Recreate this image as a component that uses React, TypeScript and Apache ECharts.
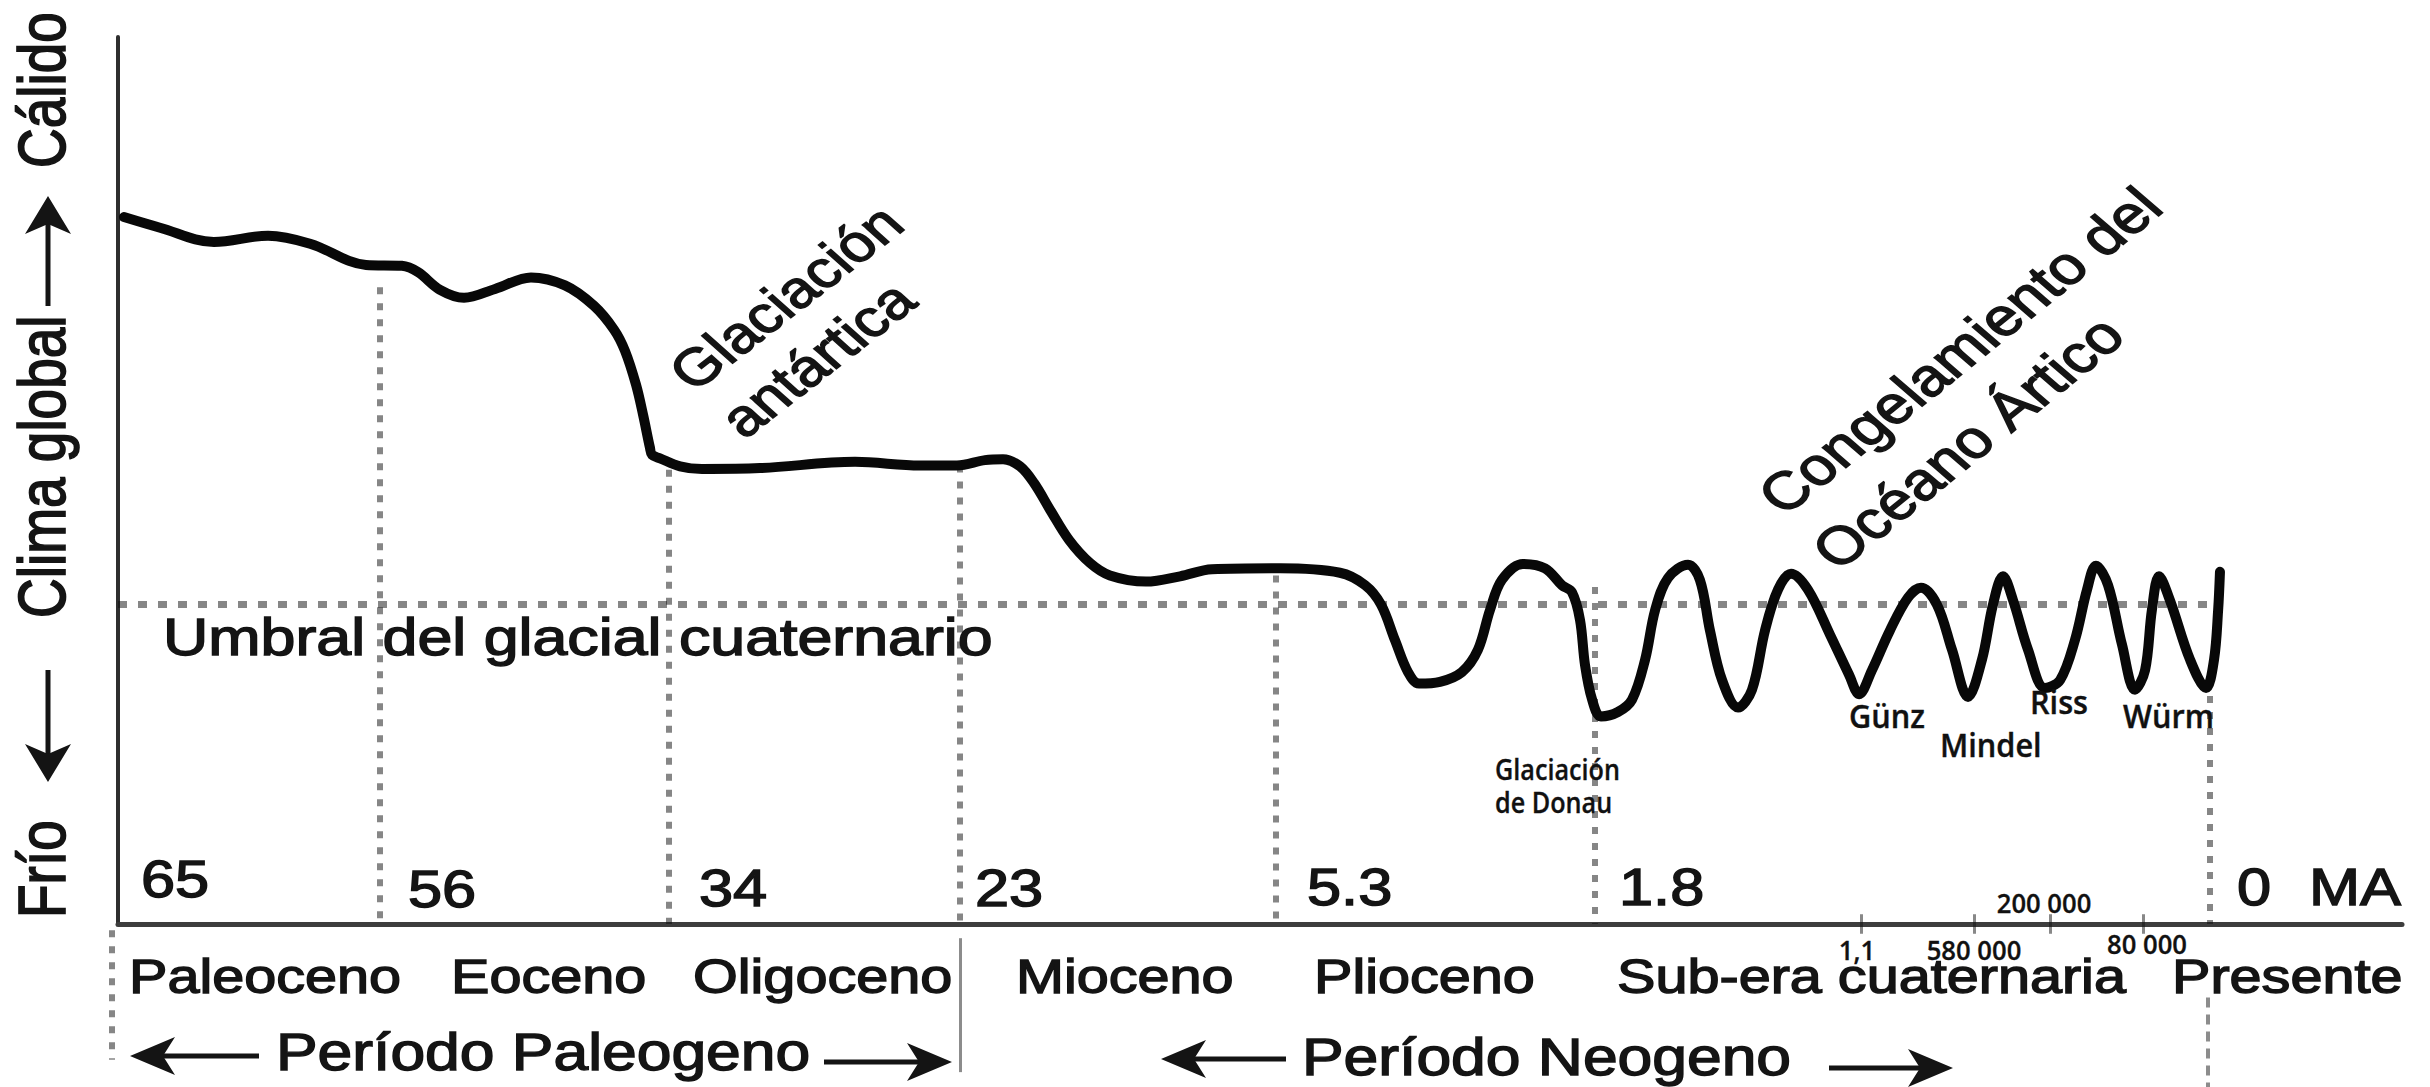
import React, { useEffect, useRef } from "react";
import * as echarts from "echarts";

// ---- DATA (timeline position 0..1000 along the drawn axis, climate index 0..100) ----
const timelinePos = [
  2.6, 18.4, 42.0, 65.7, 84.1, 108.6, 124.3, 131.3, 141.0, 151.5,
  165.1, 180.8, 195.7, 208.4, 217.2, 222.0, 226.8, 229.9, 232.9, 233.8,
  237.3, 246.1, 255.7, 281.1, 322.7, 351.1, 367.3, 379.6, 387.5, 394.9,
  401.1, 408.1, 416.4, 425.6, 434.3, 450.1, 465.0, 479.0, 508.8, 535.0,
  546.0, 553.0, 559.1, 564.8, 569.6, 578.8, 588.4, 595.4, 600.7, 605.9,
  615.1, 624.8, 632.2, 636.6, 640.1, 642.3, 645.4, 649.3, 656.7, 662.9,
  668.6, 673.0, 678.6, 687.4, 692.6, 697.0, 702.3, 709.3, 715.4, 721.1,
  726.8, 732.5, 739.9, 749.6, 757.9, 762.3, 767.9, 775.8, 783.7, 789.4,
  796.4, 803.0, 810.0, 816.1, 820.9, 825.3, 829.7, 836.3, 843.7, 850.3,
  856.8, 862.1, 866.0, 871.3, 877.4, 883.1, 887.5, 890.5, 893.6, 898.4,
  907.2, 914.2, 917.7, 919.5, 920.3,
];
const climateIndex = [
  79.7, 78.5, 76.9, 77.6, 76.7, 74.3, 74.2, 73.5, 71.5, 70.6,
  71.6, 72.9, 72.0, 69.7, 67.0, 64.6, 60.8, 57.4, 53.7, 52.9,
  52.5, 51.6, 51.3, 51.4, 52.1, 51.7, 51.7, 52.3, 52.4, 51.6,
  49.7, 46.7, 43.3, 40.7, 39.3, 38.6, 39.2, 40.0, 40.1, 39.6,
  38.2, 36.0, 32.0, 28.4, 27.1, 27.3, 28.4, 30.9, 35.4, 38.8,
  40.6, 40.1, 38.2, 37.4, 34.3, 29.2, 25.3, 23.4, 23.9, 25.3,
  29.8, 35.4, 39.0, 40.5, 38.8, 33.1, 27.5, 24.4, 26.4, 33.1,
  37.7, 39.5, 37.7, 32.6, 28.1, 25.9, 28.6, 33.1, 36.8, 37.9,
  36.0, 30.9, 25.6, 29.8, 36.0, 39.2, 36.5, 30.9, 26.6, 27.5,
  32.0, 37.7, 40.4, 38.2, 31.5, 26.4, 28.6, 35.4, 39.2, 36.5,
  29.8, 26.6, 29.8, 35.4, 39.7,
];

const epochAges = ["65", "56", "34", "23", "5.3", "1.8", "0"];
const epochNames = ["Paleoceno", "Eoceno", "Oligoceno", "Mioceno", "Plioceno", "Sub-era cuaternaria", "Presente"];
// boundaries for 56, 34, 23, 5.3, 1.8, 0 MA
const boundaryPos = [114.7, 241.2, 368.6, 507.0, 646.7, 915.9];
const boundaryTop = [71.8, 51.2, 51.7, 39.3, 38.0, 25.7];
const thresholdLevel = 36.1;
const thresholdEnd = 921;
const tickPos = [763.1, 812.6, 845.9, 886.6];
const tickLabels = ["1,1", "580 000", "200 000", "80 000"];
const glaciationNames = ["Günz", "Mindel", "Riss", "Würm"];

const MAIN_FONT = "'Liberation Sans', Arial, Helvetica, sans-serif";
const SMALL_FONT = "'Open Sans', 'Noto Sans', sans-serif";
const INK = "#141414";

function txt(text: string, x: number, y: number, o: any = {}) {
  return {
    type: "text",
    x,
    y,
    scaleX: o.sx ?? 1,
    rotation: o.rot ?? 0,
    silent: true,
    z: 10,
    style: {
      text,
      fontSize: o.f ?? 50,
      fontFamily: o.ff ?? MAIN_FONT,
      fontWeight: o.fw ?? "normal",
      fill: o.fill ?? INK,
      stroke: o.fill ?? INK,
      lineWidth: o.lw ?? 1.4,
      textAlign: o.align ?? "left",
      textVerticalAlign: "middle",
    },
  };
}

function arrowLeft(tipX: number, y: number, tailX: number) {
  return [
    { type: "line", silent: true, z: 10, shape: { x1: tipX + 20, y1: y, x2: tailX, y2: y }, style: { stroke: INK, lineWidth: 5 } },
    { type: "polygon", silent: true, z: 10, shape: { points: [[tipX, y], [tipX + 45, y - 19], [tipX + 33, y], [tipX + 45, y + 19]] }, style: { fill: INK } },
  ];
}
function arrowRight(tipX: number, y: number, tailX: number) {
  return [
    { type: "line", silent: true, z: 10, shape: { x1: tailX, y1: y, x2: tipX - 20, y2: y }, style: { stroke: INK, lineWidth: 5 } },
    { type: "polygon", silent: true, z: 10, shape: { points: [[tipX, y], [tipX - 45, y - 19], [tipX - 33, y], [tipX - 45, y + 19]] }, style: { fill: INK } },
  ];
}
function arrowUp(x: number, tipY: number, tailY: number) {
  return [
    { type: "line", silent: true, z: 10, shape: { x1: x, y1: tailY, x2: x, y2: tipY + 20 }, style: { stroke: INK, lineWidth: 5 } },
    { type: "polygon", silent: true, z: 10, shape: { points: [[x, tipY], [x - 23, tipY + 38], [x, tipY + 28], [x + 23, tipY + 38]] }, style: { fill: INK } },
  ];
}
function arrowDown(x: number, tipY: number, tailY: number) {
  return [
    { type: "line", silent: true, z: 10, shape: { x1: x, y1: tailY, x2: x, y2: tipY - 20 }, style: { stroke: INK, lineWidth: 5 } },
    { type: "polygon", silent: true, z: 10, shape: { points: [[x, tipY], [x - 23, tipY - 38], [x, tipY - 28], [x + 23, tipY - 38]] }, style: { fill: INK } },
  ];
}

export default function App() {
  const ref = useRef<HTMLDivElement>(null);

  useEffect(() => {
    if (!ref.current) return;
    const chart = echarts.init(ref.current, null, { renderer: "svg", width: 2430, height: 1087 });

    const dotV = { color: "#0e0e0e", width: 6, type: [7, 9] as any, cap: "butt" };
    const guideData: any[] = [];
    boundaryPos.forEach((u, i) => {
      guideData.push({ coords: [[u, boundaryTop[i]], [u, 0]], lineStyle: dotV });
    });
    guideData.push({
      coords: [[0, thresholdLevel], [thresholdEnd, thresholdLevel]],
      lineStyle: { color: "#0e0e0e", width: 7, type: [9, 11], cap: "butt" },
    });
    // below-axis separators
    guideData.push({ coords: [[-2.6, -0.7], [-2.6, -15.3]], lineStyle: dotV });
    guideData.push({ coords: [[boundaryPos[2], -1.6], [boundaryPos[2], -16.7]], lineStyle: { color: "#1a1a1a", width: 3, type: "solid" } });
    guideData.push({ coords: [[boundaryPos[5] - 0.8, -8.3], [boundaryPos[5] - 0.8, -18.4]], lineStyle: { color: "#1a1a1a", width: 4, type: [10, 7] } });
    tickPos.forEach((u) => {
      guideData.push({ coords: [[u, 1.1], [u, -1.1]], lineStyle: { color: "#111", width: 3, type: "solid" } });
    });

    chart.setOption({
      animation: false,
      backgroundColor: "#ffffff",
      grid: { left: 118, right: 28, top: 37, bottom: 163, containLabel: false },
      xAxis: {
        type: "value",
        min: 0,
        max: 1000,
        axisLine: { show: true, lineStyle: { color: "#3d3d3d", width: 5 } },
        axisTick: { show: false },
        axisLabel: { show: false },
        splitLine: { show: false },
      },
      yAxis: {
        type: "value",
        min: 0,
        max: 100,
        axisLine: { show: true, lineStyle: { color: "#2e2e2e", width: 4 } },
        axisTick: { show: false },
        axisLabel: { show: false },
        splitLine: { show: false },
      },
      series: [
        {
          type: "lines",
          coordinateSystem: "cartesian2d",
          polyline: false,
          clip: false,
          silent: true,
          z: 1,
          data: guideData,
        },
        {
          type: "line",
          name: "Clima global",
          data: timelinePos.map((u, i) => [u, climateIndex[i]]),
          smooth: 0.35,
          symbol: "none",
          clip: false,
          silent: true,
          z: 3,
          lineStyle: { color: "#080808", width: 10, cap: "round", join: "round" },
        },
      ],
    });

    // positions of age numbers & epoch names (left edges)
    const ageX = [141, 408, 699, 975, 1307, 1619, 2237];
    const ageY = [879, 889, 888, 888, 887, 887, 887];
    const nameX = [129, 451, 693, 1016, 1314, 1617, 2172];

    const g: any[] = [];
    epochAges.forEach((a, i) => g.push(txt(a, ageX[i], ageY[i], { f: 52, sx: 1.18 })));
    g.push(txt("MA", 2309, 887, { f: 52, sx: 1.18 }));
    epochNames.forEach((n, i) => g.push(txt(n, nameX[i], 976, { f: 48, sx: 1.2 })));
    g.push(txt("Período Paleogeno", 276, 1052, { f: 52, sx: 1.2 }));
    g.push(txt("Período Neogeno", 1302, 1057, { f: 52, sx: 1.2 }));
    g.push(txt("Umbral del glacial cuaternario", 163, 637, { f: 51, sx: 1.23 }));

    // stretched group: rotated labels
    g.push({
      type: "group",
      x: 0,
      y: 0,
      scaleX: 1.2,
      children: [
        txt("Cálido", 35, 168, { f: 55, rot: Math.PI / 2 }),
        txt("Clima global", 35, 618, { f: 55, rot: Math.PI / 2 }),
        txt("Frío", 35, 918, { f: 55, rot: Math.PI / 2 }),
        txt("Glaciación", 566, 380, { f: 52, rot: 0.75 }),
        txt("antártica", 608, 427, { f: 52, rot: 0.75 }),
        txt("Congelamiento del", 1474, 504, { f: 53, rot: 0.768 }),
        txt("Océano Ártico", 1519, 559, { f: 53, rot: 0.768 }),
      ],
    });

    // glaciation labels (small font)
    const glX = [1849, 1940, 2030, 2123];
    const glY = [715, 744, 701, 715];
    glaciationNames.forEach((n, i) => g.push(txt(n, glX[i], glY[i], { f: 33, sx: 0.93, ff: SMALL_FONT, fw: 600, fill: "#111", lw: 0.4 })));
    g.push(txt("Glaciación", 1495, 769, { f: 28, sx: 0.9, ff: SMALL_FONT, fw: 600, fill: "#111", lw: 0.3 }));
    g.push(txt("de Donau", 1495, 802, { f: 28, sx: 0.9, ff: SMALL_FONT, fw: 600, fill: "#111", lw: 0.3 }));

    // tick labels positioned through the axis scale
    const tickLabelY = [950, 950, 903, 944];
    const tickLabelDx = [-4, 0, -6, 4];
    tickPos.forEach((u, i) => {
      const p = chart.convertToPixel({ xAxisIndex: 0, yAxisIndex: 0 }, [u, 0]) as number[];
      g.push(txt(tickLabels[i], p[0] + tickLabelDx[i], tickLabelY[i], { f: 27, sx: 0.95, ff: SMALL_FONT, fw: 600, fill: "#111", align: "center", lw: 0.3 }));
    });

    // arrows
    g.push(...arrowUp(48, 196, 306));
    g.push(...arrowDown(48, 782, 670));
    g.push(...arrowLeft(130, 1056, 259));
    g.push(...arrowRight(952, 1062, 824));
    g.push(...arrowLeft(1161, 1059, 1286));
    g.push(...arrowRight(1953, 1068, 1829));

    chart.setOption({ graphic: { elements: g } });

    return () => chart.dispose();
  }, []);

  return (
    <div
      ref={ref}
      style={{ position: "fixed", left: 0, top: 0, width: 2430, height: 1087, background: "#fff" }}
    />
  );
}
